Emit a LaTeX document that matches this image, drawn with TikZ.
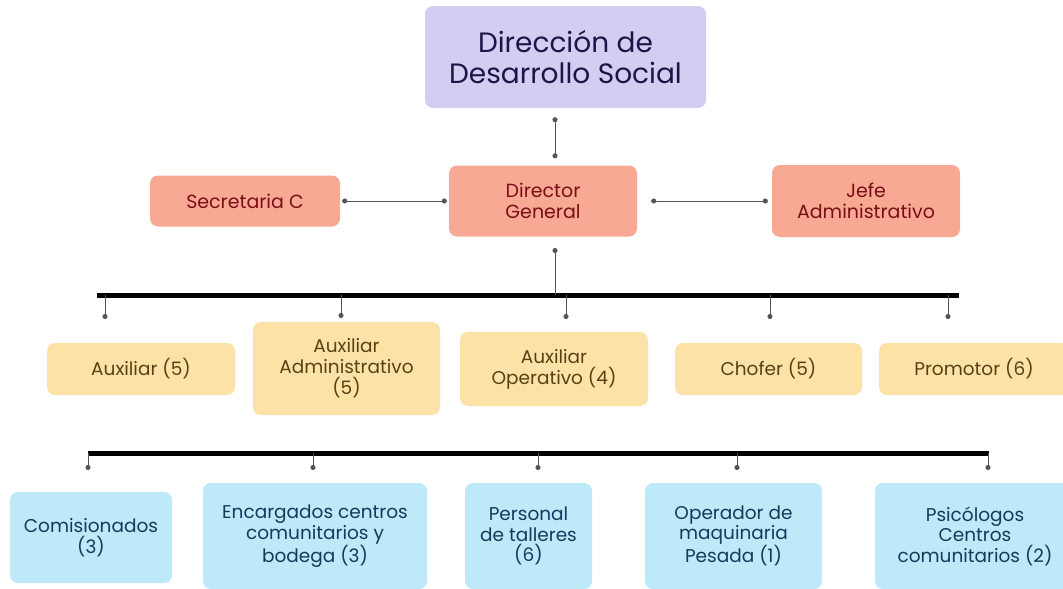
\documentclass[tikz,border=0pt]{standalone}
\usepackage{fontspec}
\setmainfont{Poppins}
\usetikzlibrary{arrows.meta}
\definecolor{lav}{HTML}{D5CCF2}
\definecolor{salmon}{HTML}{F8A994}
\definecolor{sand}{HTML}{FCE2A6}
\definecolor{sky}{HTML}{BDE9F8}
\definecolor{navytxt}{HTML}{1A1748}
\definecolor{redtxt}{HTML}{7A0E14}
\definecolor{browntxt}{HTML}{574214}
\definecolor{bluetxt}{HTML}{153A5C}
\definecolor{linegray}{HTML}{555555}
\begin{document}
\begin{tikzpicture}[x=1pt,y=1pt,
  box/.style={rounded corners=8pt, align=center, inner sep=2pt},
  topbox/.style={box, fill=lav, text=navytxt, font=\fontsize{28}{31}\selectfont},
  redbox/.style={box, fill=salmon, text=redtxt, font=\fontsize{19}{20.5}\selectfont},
  yelbox/.style={box, fill=sand, text=browntxt, font=\fontsize{18.5}{21}\selectfont},
  cyanbox/.style={box, fill=sky, text=bluetxt, font=\fontsize{18.5}{20.5}\selectfont},
  conn/.style={draw=linegray, line width=0.8pt, {Circle[length=5pt]}-{Circle[length=5pt]}},
  drop/.style={draw=linegray, line width=0.8pt, -{Circle[length=5pt]}},
  bar/.style={draw=black, line width=5pt}]
\useasboundingbox (0,0) rectangle (1063,-589);
% nodes
\node[topbox, minimum width=281, minimum height=102] (top) at (565.5,-57) {Dirección de\\Desarrollo Social};
\node[redbox, minimum width=188, minimum height=71] (dg) at (543,-201) {Director\\General};
\node[redbox, minimum width=190, minimum height=51] (sec) at (245,-201) {Secretaria C};
\node[redbox, minimum width=188, minimum height=72] (jefe) at (866,-201) {Jefe\\Administrativo};
\node[yelbox, minimum width=188, minimum height=52] (aux) at (141,-369) {Auxiliar (5)};
\node[yelbox, minimum width=187, minimum height=93] (auxadm) at (346.5,-368.5) {Auxiliar\\Administrativo\\(5)};
\node[yelbox, minimum width=188, minimum height=74] (auxop) at (554,-369) {Auxiliar\\Operativo (4)};
\node[yelbox, minimum width=187, minimum height=52] (chofer) at (768.5,-369) {Chofer (5)};
\node[yelbox, minimum width=190, minimum height=52] (prom) at (974,-369) {Promotor (6)};
\node[cyanbox, minimum width=162, minimum height=91] (com) at (91,-537.5) {Comisionados\\(3)};
\node[cyanbox, minimum width=224, minimum height=106] (enc) at (315,-536) {Encargados centros\\comunitarios y\\bodega (3)};
\node[cyanbox, minimum width=127, minimum height=106] (pers) at (528.5,-536) {Personal\\de talleres\\(6)};
\node[cyanbox, minimum width=177, minimum height=106] (oper) at (733.5,-536) {Operador de\\maquinaria\\Pesada (1)};
\node[cyanbox, minimum width=200, minimum height=106] (psic) at (975,-536) {Psicólogos\\Centros\\comunitarios (2)};
% top connectors
\coordinate (dgb) at (555,-248);
\draw[conn, shorten <=9pt, shorten >=7pt] (top.south -| dgb) -- (dg.north -| dgb);
\draw[conn, shorten <=2pt, shorten >=2pt] (sec.east) -- (dg.west);
\draw[conn, shorten <=14pt, shorten >=4pt] (dg.east) -- (jefe.west);
% bar 1
\coordinate (b1L) at (97,-295);
\coordinate (b1R) at (959,-295);
\draw[bar] (b1L) -- (b1R);
\draw[drop] (dgb |- b1L) -- (dgb);
\coordinate (d11) at (105,-319);
\coordinate (d12) at (341,-318);
\coordinate (d13) at (566,-319);
\coordinate (d14) at (770,-319);
\coordinate (d15) at (948,-319);
\foreach \d in {d11,d12,d13,d14,d15} \draw[drop] (\d |- b1L) -- (\d);
% bar 2
\coordinate (b2L) at (88,-453);
\coordinate (b2R) at (989,-453);
\draw[bar] (b2L) -- (b2R);
\coordinate (d21) at (88,-470);
\coordinate (d22) at (313,-470);
\coordinate (d23) at (538,-470);
\coordinate (d24) at (737,-470);
\coordinate (d25) at (988,-470);
\foreach \d in {d21,d22,d23,d24,d25} \draw[drop] (\d |- b2L) -- (\d);
\end{tikzpicture}
\end{document}
